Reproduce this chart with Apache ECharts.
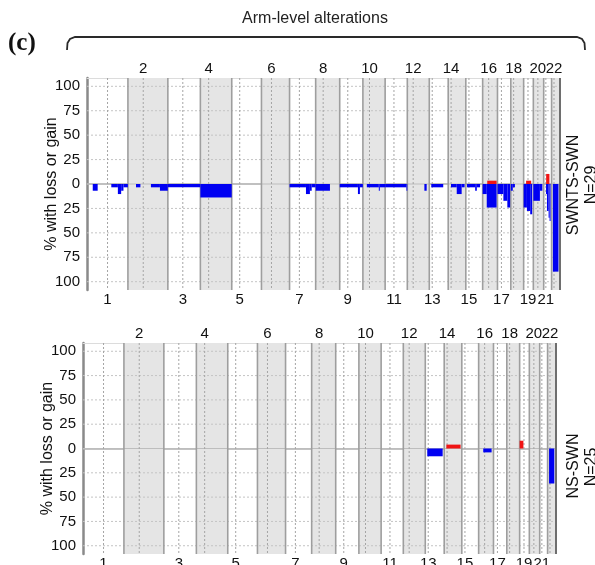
<!DOCTYPE html>
<html>
<head>
<meta charset="utf-8">
<script src="https://cdn.jsdelivr.net/npm/echarts@6/dist/echarts.min.js"></script>
<style>
html, body { margin: 0; padding: 0; background: #fff; }
#chart { width: 595px; height: 565px; }
</style>
</head>
<body>
<div id="chart"></div>
<script>
// chromosome layout (hg19, Mb)
var chromNames = ['1','2','3','4','5','6','7','8','9','10','11','12','13','14','15','16','17','18','19','20','21','22'];
var chromLengths = [249.25, 243.2, 198.0, 191.15, 180.9, 171.1, 159.1, 146.4, 141.2, 135.5, 135.0, 133.85, 115.2, 107.3, 102.5, 90.35, 81.2, 78.1, 59.1, 63.0, 48.1, 51.3];
var centromeres = [125.0, 93.3, 91.0, 50.4, 48.4, 61.0, 59.9, 45.6, 49.0, 40.2, 53.7, 35.8, 17.9, 17.6, 19.0, 36.6, 24.0, 17.2, 26.5, 27.5, 13.2, 14.7];
var yTicks = [-100, -75, -50, -25, 0, 25, 50, 75, 100];

// segments: [chromosome, start Mb, end Mb, % of samples]
var swntsLoss = [
    [1, 35, 65, 6.9], [1, 148, 188, 3.4], [1, 188, 208, 10.3], [1, 208, 222, 6.9], [1, 222, 249, 3.4],
    [2, 49, 76, 3.4], [2, 140, 195, 3.4], [2, 195, 243, 6.9],
    [3, 0, 198, 3.4],
    [4, 0, 191, 13.8],
    [7, 0, 100, 3.4], [7, 100, 124, 10.3], [7, 124, 135, 6.9], [7, 135, 159, 3.4],
    [8, 0, 87, 6.9],
    [9, 0, 111, 3.4], [9, 111, 123, 10.3], [9, 123, 141, 3.4],
    [10, 24, 97, 3.4], [10, 97, 103, 6.9], [10, 103, 135, 3.4],
    [11, 0, 130, 3.4], [11, 130, 135, 6.9],
    [12, 104, 118, 6.9],
    [13, 12, 85, 3.4],
    [14, 17, 52, 3.4], [14, 52, 82, 10.3], [14, 82, 100, 3.4],
    [15, 7, 57, 3.4], [15, 57, 67, 6.9], [15, 67, 87, 3.4],
    [16, 0, 25, 10.3], [16, 25, 85, 24.1],
    [17, 0, 36, 10.3], [17, 36, 60, 17.2], [17, 60, 77, 24.1],
    [18, 0, 12, 6.9], [18, 12, 25, 3.4],
    [19, 0, 20, 24.1], [19, 20, 40, 27.6], [19, 40, 52, 31.0],
    [20, 0, 40, 17.2], [20, 40, 55, 6.9],
    [21, 14, 20, 10.3], [21, 20, 30, 27.6], [21, 30, 36, 34.5], [21, 36, 42, 37.9],
    [22, 8, 42, 89.7]
];
var swntsGain = [
    [16, 28, 85, 3.4],
    [19, 15, 46, 3.4],
    [21, 15, 35, 10.3]
];
var nsLoss = [
    [13, 12, 106, 8],
    [16, 28, 79, 4],
    [22, 9, 41, 36]
];
var nsGain = [
    [14, 13, 100, 4],
    [19, 0, 23, 8]
];

var Y_MIN = -108.5, Y_MAX = 108.5;
var FONT = 'Liberation Sans';

var offsets = [];
var acc = 0;
for (var i = 0; i < chromLengths.length; i++) {
    offsets.push(acc);
    acc += chromLengths[i];
}
var genomeLength = acc;
var centroPos = centromeres.map(function (c, i) { return offsets[i] + c; });

function toGenome(segs, sign) {
    return segs.map(function (s) {
        var o = offsets[s[0] - 1];
        return [o + s[1], o + s[2], sign * s[3]];
    });
}

var bandData = chromLengths.map(function (len, i) {
    return [offsets[i], offsets[i] + len, centroPos[i], i];
});
var gridData = yTicks.map(function (v) { return [v]; });
// chromosome labels: odd below the panel, even above it
var labelData = centroPos.map(function (p, i) { return [p, i]; });

function renderBand(params, api) {
    var s = api.value(0), e = api.value(1), idx = api.value(3);
    var tl = api.coord([s, Y_MAX]);
    var br = api.coord([e, Y_MIN]);
    if (idx % 2 !== 1) return { type: 'group', children: [] };
    return {
        type: 'rect',
        shape: { x: tl[0], y: tl[1], width: br[0] - tl[0], height: br[1] - tl[1] },
        style: { fill: '#e5e5e5' }
    };
}

function renderLines(params, api) {
    var s = api.value(0), e = api.value(1), c = api.value(2), idx = api.value(3);
    var tl = api.coord([s, Y_MAX]);
    var br = api.coord([e, Y_MIN]);
    var cx = api.coord([c, 0])[0];
    var children = [{
        type: 'line',
        shape: { x1: cx, y1: tl[1], x2: cx, y2: br[1] },
        style: { stroke: '#a5a5a5', lineWidth: 1, lineDash: [2, 2] }
    }];
    if (idx > 0) {
        children.push({
            type: 'line',
            shape: { x1: tl[0], y1: tl[1], x2: tl[0], y2: br[1] },
            style: { stroke: '#9e9e9e', lineWidth: 1.6 }
        });
    }
    if (idx === chromLengths.length - 1) {
        children.push({
            type: 'line',
            shape: { x1: br[0], y1: tl[1], x2: br[0], y2: br[1] },
            style: { stroke: '#6e6e6e', lineWidth: 2 }
        });
    }
    return { type: 'group', children: children };
}

function renderGridLine(params, api) {
    var v = api.value(0);
    var a = api.coord([0, v]);
    var b = api.coord([genomeLength, v]);
    return {
        type: 'line',
        shape: { x1: a[0], y1: a[1], x2: b[0], y2: b[1] },
        style: v === 0
            ? { stroke: '#bdbdbd', lineWidth: 1.2 }
            : { stroke: '#c4c4c4', lineWidth: 1, lineDash: [2, 2] }
    };
}

function renderLabel(params, api) {
    var idx = api.value(1);
    var even = idx % 2 === 1;
    var pt = api.coord([api.value(0), even ? Y_MAX : Y_MIN]);
    return {
        type: 'text',
        x: pt[0],
        y: even ? pt[1] - 2 : pt[1] + 2,
        style: {
            text: chromNames[idx],
            font: '15px "' + FONT + '"',
            fill: '#111',
            align: 'center',
            verticalAlign: even ? 'bottom' : 'top'
        }
    };
}

function segRenderer(color) {
    return function (params, api) {
        var a = api.coord([api.value(0), 0]);
        var b = api.coord([api.value(1), api.value(2)]);
        return {
            type: 'rect',
            shape: { x: a[0], y: Math.min(a[1], b[1]), width: b[0] - a[0], height: Math.abs(b[1] - a[1]) },
            style: { fill: color }
        };
    };
}

function xAxisPair(gridIndex) {
    return [
        {
            type: 'value', gridIndex: gridIndex, min: 0, max: genomeLength, position: 'bottom',
            splitLine: { show: false }, axisTick: { show: false }, axisLabel: { show: false },
            axisLine: { show: true, lineStyle: { color: '#b0b0b0', width: 1.5 } }
        },
        {
            type: 'value', gridIndex: gridIndex, min: 0, max: genomeLength, position: 'top',
            splitLine: { show: false }, axisTick: { show: false }, axisLabel: { show: false },
            axisLine: { show: true, lineStyle: { color: '#dcdcdc', width: 1 } }
        }
    ];
}

function yAxisFor(gridIndex) {
    return {
        type: 'value',
        gridIndex: gridIndex,
        min: Y_MIN,
        max: Y_MAX,
        name: '% with loss or gain',
        nameLocation: 'middle',
        nameRotate: 90,
        nameGap: 27,
        nameMoveOverlap: false,
        nameTextStyle: { fontFamily: FONT, fontSize: 16, color: '#111' },
        axisLine: { show: true, lineStyle: { color: '#8a8a8a', width: 2.5 } },
        axisTick: { show: false },
        splitLine: { show: false },
        axisLabel: {
            customValues: yTicks,
            formatter: function (v) { return Math.abs(v); },
            fontFamily: FONT, fontSize: 15, color: '#111', margin: 7
        }
    };
}

function panelSeries(xIdx, yIdx, loss, gain) {
    return [
        { type: 'custom', xAxisIndex: xIdx, yAxisIndex: yIdx, data: bandData, renderItem: renderBand, silent: true, z: 1 },
        { type: 'custom', xAxisIndex: xIdx, yAxisIndex: yIdx, data: gridData, renderItem: renderGridLine, silent: true, z: 2 },
        { type: 'custom', xAxisIndex: xIdx, yAxisIndex: yIdx, data: bandData, renderItem: renderLines, silent: true, z: 3 },
        { type: 'custom', xAxisIndex: xIdx, yAxisIndex: yIdx, data: toGenome(loss, -1), renderItem: segRenderer('#0000f2'), z: 4 },
        { type: 'custom', xAxisIndex: xIdx, yAxisIndex: yIdx, data: toGenome(gain, 1), renderItem: segRenderer('#f01414'), z: 4 },
        { type: 'custom', xAxisIndex: xIdx, yAxisIndex: yIdx, data: labelData, renderItem: renderLabel, silent: true, clip: false, z: 5 }
    ];
}

var myChart = echarts.init(document.getElementById('chart'));
var option = {
    animation: false,
    backgroundColor: '#fff',
    grid: [
        { left: 87, top: 78, width: 473, height: 212 },
        { left: 83, top: 343, width: 473, height: 211 }
    ],
    xAxis: xAxisPair(0).concat(xAxisPair(1)),
    yAxis: [yAxisFor(0), yAxisFor(1)],
    series: panelSeries(0, 0, swntsLoss, swntsGain).concat(panelSeries(2, 1, nsLoss, nsGain)),
    graphic: [
        {
            type: 'text', x: 8, y: 31,
            style: { text: '(c)', font: 'bold 25px "Liberation Serif"', fill: '#111' }
        },
        {
            type: 'text', x: 315, y: 19,
            style: { text: 'Arm-level alterations', font: '16px "Liberation Sans"', fill: '#222', align: 'center', verticalAlign: 'middle' }
        },
        {
            type: 'polyline',
            shape: { points: [[67, 50], [67.5, 43], [70, 39], [75, 37], [577, 37], [582, 39], [584.5, 43], [585, 50]] },
            style: { fill: null, stroke: '#2a2a2a', lineWidth: 1.8 }
        },
        {
            type: 'text', x: 574, y: 185, rotation: Math.PI / 2,
            style: { text: 'SWNTS-SWN', font: '16px "Liberation Sans"', fill: '#111', align: 'center', verticalAlign: 'middle' }
        },
        {
            type: 'text', x: 592, y: 185, rotation: Math.PI / 2,
            style: { text: 'N=29', font: '16px "Liberation Sans"', fill: '#111', align: 'center', verticalAlign: 'middle' }
        },
        {
            type: 'text', x: 574, y: 466, rotation: Math.PI / 2,
            style: { text: 'NS-SWN', font: '16px "Liberation Sans"', fill: '#111', align: 'center', verticalAlign: 'middle' }
        },
        {
            type: 'text', x: 592, y: 467, rotation: Math.PI / 2,
            style: { text: 'N=25', font: '16px "Liberation Sans"', fill: '#111', align: 'center', verticalAlign: 'middle' }
        }
    ]
};
myChart.setOption(option);
</script>
</body>
</html>
